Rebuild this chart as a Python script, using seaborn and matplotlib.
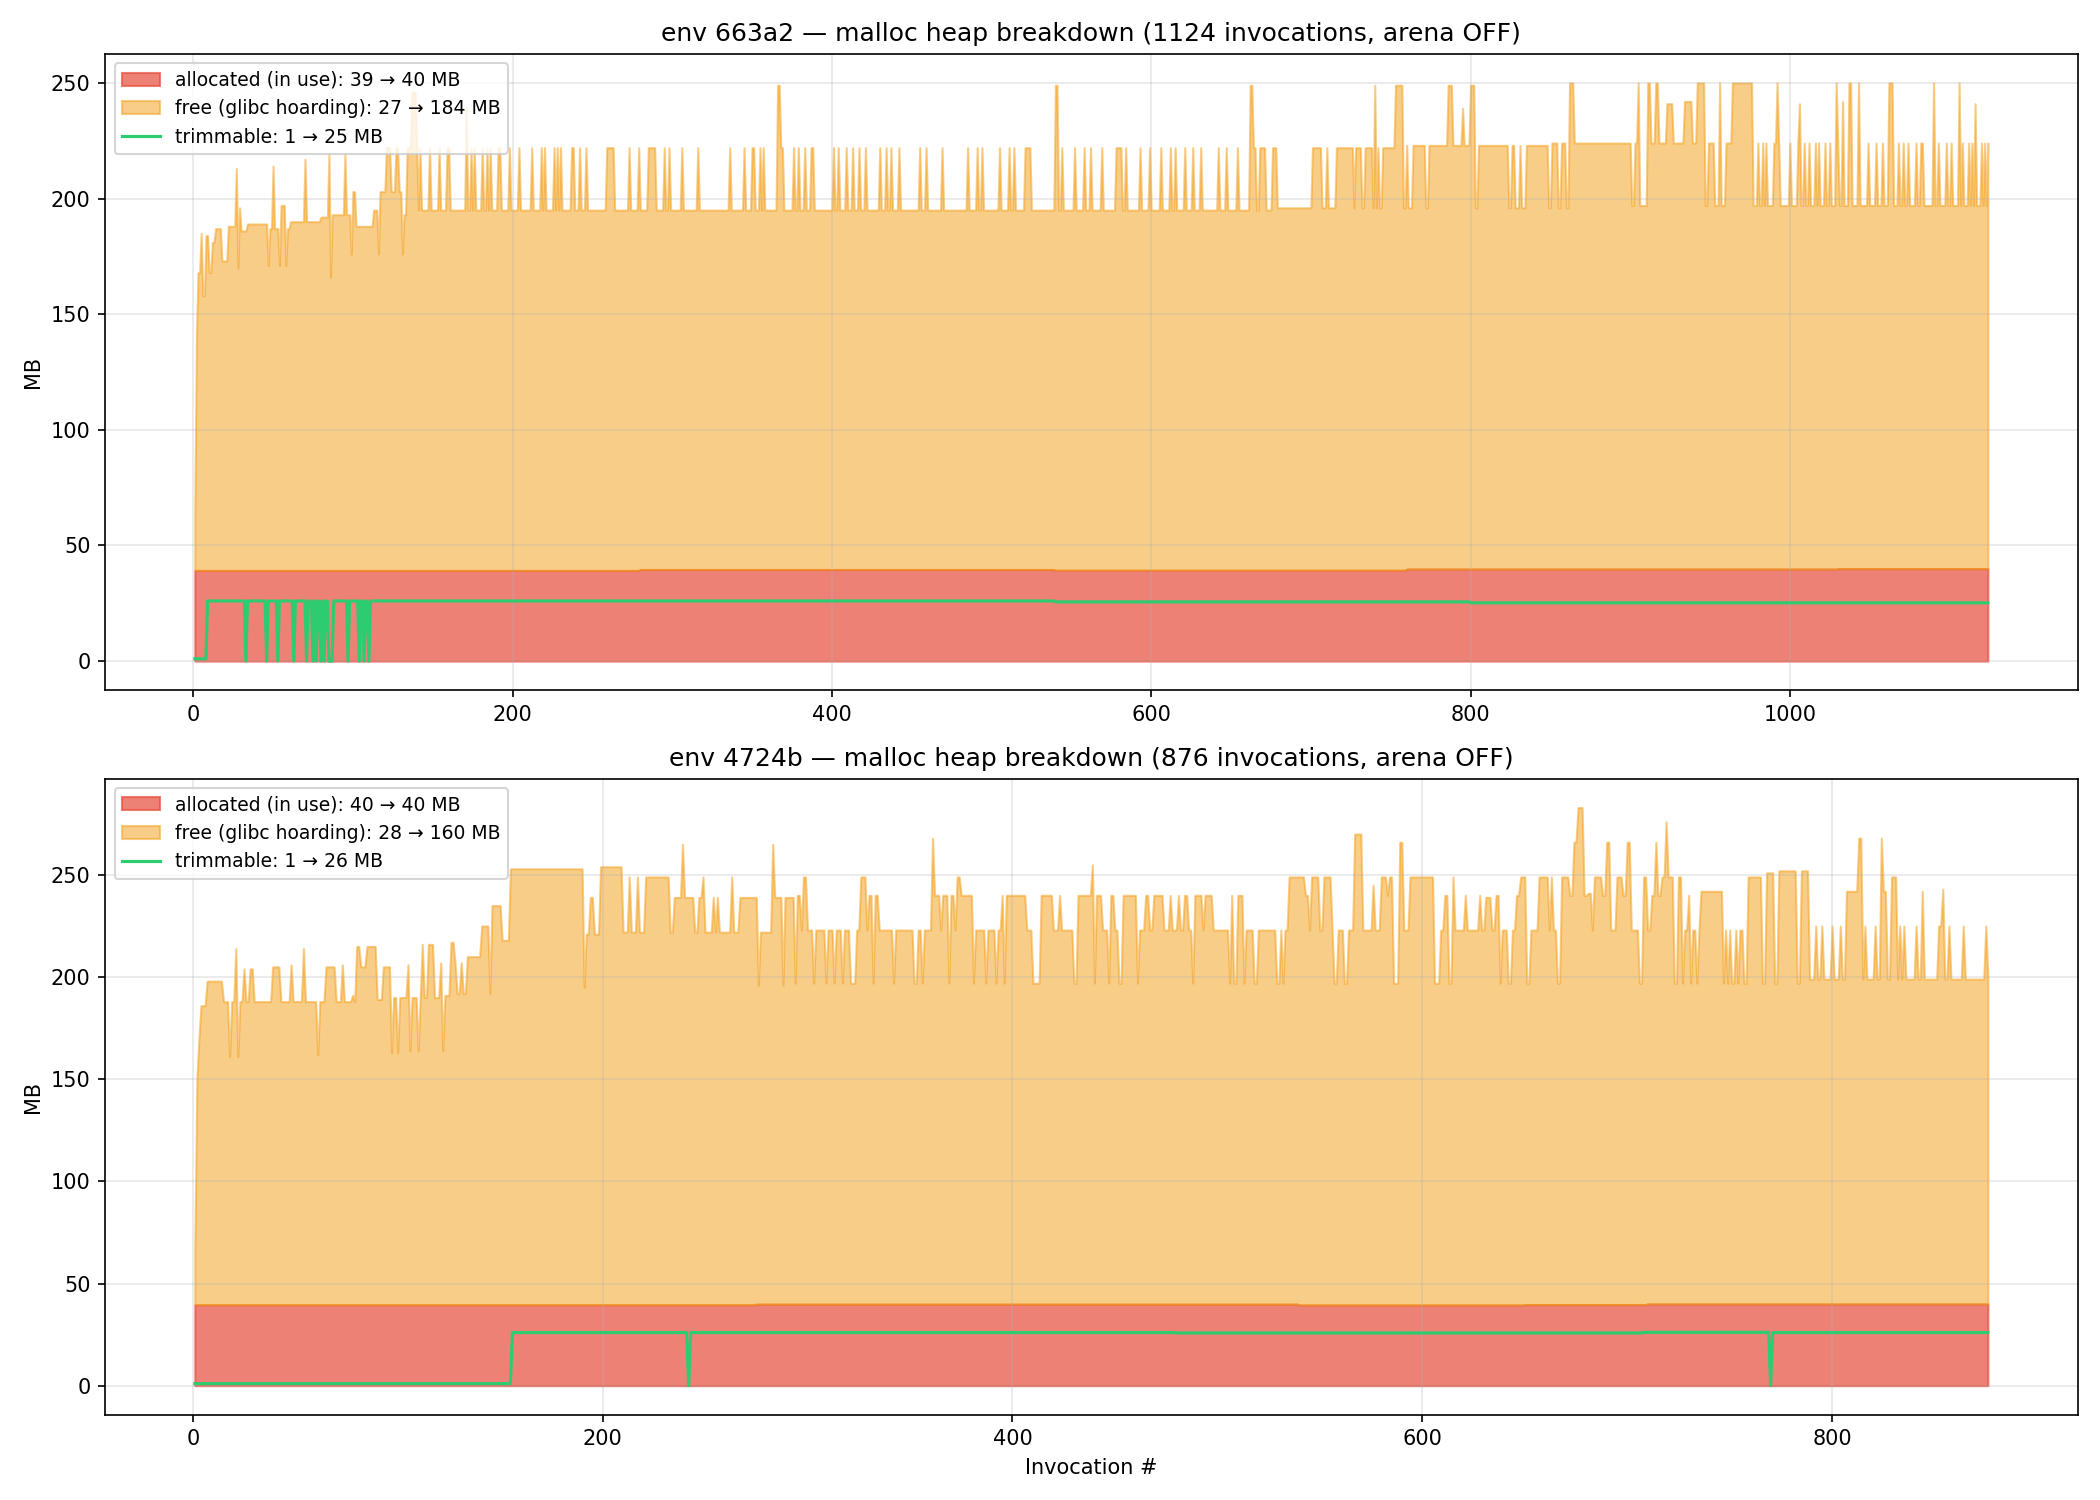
import numpy as np
import seaborn as sns
import matplotlib.pyplot as plt

# change points (invocation, MB); each value holds until the next one
# top edge of the stack = allocated + free
env_a_total = [
    (1, 66), (2, 140), (3, 168), (5, 185), (6, 158), (8, 184), (10, 168), (12, 181), (14, 187), (18, 173),
    (22, 188), (27, 213), (28, 170), (29, 196), (30, 186), (34, 189), (47, 171), (48, 187), (50, 214), (51, 187),
    (54, 171), (55, 197), (58, 171), (59, 187), (61, 190), (70, 217), (71, 190), (80, 192), (85, 219), (86, 166),
    (87, 193), (95, 219), (96, 193), (99, 176), (100, 203), (102, 188), (113, 195), (116, 176), (117, 203),
    (121, 222), (124, 203), (127, 222), (129, 203), (131, 176), (132, 193), (134, 222), (137, 246), (140, 222),
    (141, 195), (142, 222), (143, 195), (148, 222), (149, 195), (154, 222), (155, 195), (159, 222), (161, 195),
    (171, 239), (172, 195), (174, 222), (175, 195), (176, 222), (177, 195), (181, 222), (182, 195), (184, 222),
    (185, 195), (186, 222), (187, 195), (191, 222), (193, 195), (198, 222), (199, 195), (204, 222), (205, 195),
    (212, 222), (213, 195), (218, 222), (219, 195), (220, 222), (221, 195), (226, 222), (227, 195), (228, 222),
    (229, 195), (230, 222), (231, 195), (237, 222), (239, 195), (242, 222), (243, 195), (246, 222), (247, 195),
    (259, 222), (264, 195), (273, 222), (274, 195), (279, 222), (280, 195), (285, 222), (290, 195), (295, 222),
    (296, 195), (298, 222), (299, 195), (306, 222), (307, 195), (316, 222), (317, 195), (336, 222), (337, 195),
    (345, 222), (346, 195), (350, 222), (352, 195), (355, 222), (356, 195), (357, 222), (358, 195), (366, 249),
    (368, 222), (370, 195), (376, 222), (377, 195), (379, 222), (380, 195), (383, 222), (384, 195), (387, 222),
    (389, 195), (401, 222), (402, 195), (404, 222), (405, 195), (409, 222), (410, 195), (413, 222), (414, 195),
    (417, 222), (418, 195), (421, 222), (422, 195), (430, 222), (431, 195), (434, 222), (435, 195), (437, 222),
    (438, 195), (442, 222), (443, 195), (455, 222), (456, 195), (459, 222), (460, 195), (469, 222), (470, 195),
    (485, 222), (486, 195), (491, 222), (492, 195), (494, 222), (495, 195), (505, 222), (506, 195), (511, 222),
    (512, 195), (514, 222), (515, 195), (521, 222), (525, 195), (540, 249), (542, 195), (544, 222), (545, 195),
    (552, 222), (553, 195), (558, 222), (559, 195), (562, 222), (563, 195), (569, 222), (570, 195), (578, 222),
    (582, 195), (584, 222), (585, 195), (593, 222), (594, 195), (599, 222), (600, 195), (606, 222), (607, 195),
    (612, 222), (613, 195), (615, 222), (616, 195), (621, 222), (622, 195), (626, 222), (627, 195), (631, 222),
    (632, 195), (642, 222), (643, 195), (647, 222), (648, 195), (654, 222), (655, 195), (662, 249), (664, 222),
    (666, 195), (668, 222), (672, 195), (676, 222), (679, 196), (701, 222), (707, 196), (710, 222), (711, 196),
    (716, 222), (727, 196), (728, 222), (732, 196), (734, 222), (739, 196), (740, 249), (741, 196), (742, 222),
    (743, 196), (745, 222), (753, 249), (758, 196), (760, 223), (761, 196), (764, 223), (772, 196), (774, 223),
    (786, 249), (789, 223), (795, 239), (796, 223), (800, 249), (803, 196), (805, 223), (824, 196), (826, 223),
    (828, 196), (831, 223), (832, 196), (835, 223), (849, 196), (851, 224), (855, 196), (857, 224), (860, 196),
    (862, 250), (865, 224), (901, 197), (903, 224), (905, 250), (906, 197), (911, 250), (913, 224), (916, 250),
    (918, 224), (923, 241), (927, 224), (934, 242), (939, 224), (942, 250), (947, 197), (949, 224), (953, 197),
    (956, 250), (957, 197), (960, 224), (964, 250), (977, 197), (980, 224), (981, 197), (983, 224), (984, 197),
    (985, 224), (986, 197), (990, 224), (992, 250), (993, 224), (994, 197), (1000, 224), (1001, 197), (1005, 224),
    (1006, 241), (1007, 197), (1009, 224), (1010, 197), (1012, 224), (1013, 197), (1016, 224), (1017, 197),
    (1018, 224), (1019, 197), (1022, 224), (1023, 197), (1025, 224), (1026, 197), (1029, 250), (1030, 224),
    (1031, 197), (1033, 242), (1034, 197), (1037, 250), (1039, 197), (1043, 250), (1044, 197), (1049, 224),
    (1050, 197), (1054, 224), (1055, 197), (1058, 224), (1059, 197), (1062, 250), (1065, 197), (1068, 224),
    (1069, 197), (1071, 224), (1072, 197), (1074, 224), (1075, 197), (1079, 224), (1080, 197), (1082, 224),
    (1084, 197), (1090, 250), (1091, 197), (1093, 224), (1094, 197), (1098, 224), (1099, 197), (1101, 224),
    (1102, 197), (1106, 250), (1107, 197), (1108, 224), (1109, 197), (1112, 224), (1113, 197), (1114, 224),
    (1115, 197), (1116, 241), (1117, 197), (1120, 224), (1121, 197), (1122, 224), (1123, 197), (1124, 224),
]
env_a_alloc = [(1, 39.2), (280, 39.6), (540, 39.3), (760, 39.8), (1030, 40.0)]
env_a_trim = [
    (1, 1), (9, 26), (33, 0), (34, 26), (46, 0), (47, 26), (53, 0), (54, 26), (63, 0), (64, 26), (71, 0), (72, 26),
    (75, 0), (76, 26), (77, 0), (78, 26), (80, 0), (81, 26), (82, 0), (83, 26), (85, 0), (88, 26), (97, 0), (98, 26),
    (104, 0), (105, 26), (107, 0), (108, 26), (110, 0), (111, 26), (540, 25.6), (800, 25.2),
]

env_b_total = [
    (1, 68), (2, 150), (3, 170), (4, 186), (7, 198), (15, 188), (18, 161), (19, 188), (21, 214), (22, 161),
    (23, 188), (25, 204), (26, 188), (28, 204), (30, 188), (39, 205), (43, 188), (48, 206), (49, 188), (54, 214),
    (55, 188), (61, 162), (62, 188), (65, 205), (70, 188), (73, 206), (74, 188), (78, 191), (79, 188), (80, 215),
    (82, 205), (85, 215), (90, 189), (93, 205), (97, 163), (98, 190), (100, 163), (101, 190), (105, 206),
    (106, 164), (107, 190), (110, 164), (111, 190), (112, 216), (113, 190), (115, 216), (118, 190), (121, 207),
    (122, 164), (123, 191), (126, 217), (128, 207), (129, 192), (131, 207), (132, 192), (134, 210), (141, 225),
    (145, 192), (146, 235), (151, 218), (155, 253), (191, 195), (192, 221), (194, 239), (196, 221), (199, 254),
    (210, 222), (213, 249), (214, 222), (217, 249), (218, 222), (221, 249), (233, 222), (235, 239), (239, 265),
    (240, 239), (245, 222), (247, 239), (249, 249), (250, 222), (254, 239), (255, 222), (256, 239), (257, 222),
    (263, 249), (264, 222), (267, 239), (276, 196), (277, 222), (283, 265), (284, 239), (288, 196), (289, 239),
    (294, 197), (295, 240), (297, 223), (298, 249), (300, 223), (303, 197), (304, 223), (309, 197), (310, 223),
    (313, 197), (314, 223), (317, 197), (318, 223), (321, 197), (324, 223), (326, 249), (329, 223), (330, 240),
    (332, 197), (333, 240), (335, 223), (342, 197), (343, 223), (352, 197), (354, 223), (356, 197), (357, 223),
    (361, 268), (362, 240), (365, 223), (366, 240), (369, 197), (370, 240), (372, 223), (373, 249), (375, 240),
    (381, 197), (382, 223), (387, 197), (388, 223), (392, 197), (393, 223), (395, 240), (396, 197), (397, 240),
    (407, 223), (410, 197), (414, 240), (420, 223), (423, 240), (424, 223), (430, 197), (432, 240), (439, 255),
    (440, 197), (441, 240), (444, 223), (447, 197), (448, 240), (450, 223), (452, 197), (454, 240), (461, 197),
    (462, 223), (465, 240), (467, 223), (469, 240), (474, 223), (477, 240), (478, 223), (481, 240), (482, 223),
    (484, 240), (486, 223), (488, 197), (489, 240), (493, 223), (494, 240), (498, 223), (506, 197), (507, 240),
    (508, 197), (510, 240), (513, 197), (514, 223), (518, 197), (520, 223), (529, 197), (531, 223), (532, 197),
    (533, 223), (535, 249), (543, 240), (545, 223), (546, 249), (550, 223), (552, 249), (556, 223), (557, 197),
    (559, 223), (562, 197), (564, 223), (567, 270), (571, 223), (576, 245), (577, 223), (580, 249), (583, 240),
    (584, 249), (586, 197), (589, 266), (591, 223), (594, 249), (606, 197), (609, 223), (611, 240), (613, 197),
    (615, 249), (616, 223), (621, 240), (622, 223), (628, 240), (629, 223), (631, 239), (634, 223), (636, 240),
    (638, 197), (639, 223), (642, 197), (644, 223), (646, 240), (648, 249), (651, 197), (653, 223), (657, 249),
    (662, 223), (663, 249), (664, 223), (666, 197), (668, 249), (672, 240), (674, 266), (676, 283), (679, 240),
    (681, 241), (683, 223), (684, 249), (688, 240), (690, 266), (692, 223), (695, 249), (698, 240), (700, 266),
    (702, 223), (706, 197), (708, 249), (710, 223), (712, 240), (714, 266), (715, 240), (717, 249), (719, 276),
    (720, 249), (723, 197), (725, 249), (727, 197), (728, 223), (730, 240), (731, 197), (732, 223), (734, 197),
    (735, 223), (736, 242), (747, 197), (748, 223), (749, 197), (750, 223), (751, 197), (753, 223), (754, 197),
    (755, 223), (757, 197), (759, 249), (766, 197), (768, 251), (772, 197), (774, 252), (783, 197), (785, 252),
    (789, 199), (792, 225), (793, 199), (795, 225), (796, 199), (800, 225), (801, 199), (804, 225), (805, 199),
    (807, 242), (813, 268), (815, 199), (816, 225), (817, 199), (821, 225), (822, 199), (824, 268), (825, 242),
    (827, 199), (829, 249), (832, 199), (833, 225), (834, 199), (835, 225), (836, 199), (841, 225), (842, 199),
    (844, 242), (845, 199), (852, 225), (854, 243), (855, 199), (857, 225), (858, 199), (864, 225), (865, 199),
    (875, 225), (876, 200),
]
env_b_alloc = [(1, 39.6), (275, 39.9), (540, 39.5), (650, 39.7), (710, 40.0)]
env_b_trim = [(1, 1), (156, 26), (242, 0), (243, 26), (480, 25.8), (708, 26.1), (770, 0), (771, 26)]

envs = ["663a2", "4724b"]
n_invocations = [1124, 876]
totals = [env_a_total, env_b_total]
allocs = [env_a_alloc, env_b_alloc]
trims = [env_a_trim, env_b_trim]


def expand(points, n):
    # hold each recorded value until the next change point
    xs = np.array([p[0] for p in points])
    vs = np.array([p[1] for p in points], dtype=float)
    lengths = np.diff(np.append(xs, n + 1))
    return np.repeat(vs, lengths)


fig, axes = plt.subplots(2, 1, figsize=(14, 10), dpi=150)

for ax, env, n, tot, al, tr in zip(axes, envs, n_invocations, totals, allocs, trims):
    x = np.arange(1, n + 1)
    alloc = expand(al, n)
    total = expand(tot, n)
    free = total - alloc
    trim = expand(tr, n)

    ax.fill_between(x, 0, alloc, color="#e74c3c", alpha=0.7,
                    label=f"allocated (in use): {alloc[0]:.0f} \u2192 {alloc[-1]:.0f} MB")
    ax.fill_between(x, alloc, alloc + free, color="#f39c12", alpha=0.5,
                    label=f"free (glibc hoarding): {free[0]:.0f} \u2192 {free[-1]:.0f} MB")
    sns.lineplot(x=x, y=trim, ax=ax, color="#2ecc71", linewidth=1.5,
                 label=f"trimmable: {trim[0]:.0f} \u2192 {trim[-1]:.0f} MB")

    ax.set_title(f"env {env} \u2014 malloc heap breakdown ({n} invocations, arena OFF)", fontsize=12)
    ax.set_ylabel("MB")
    ax.grid(alpha=0.3)
    ax.legend(loc="upper left", fontsize=9)

axes[1].set_xlabel("Invocation #")
plt.tight_layout()
plt.savefig("out.png")
